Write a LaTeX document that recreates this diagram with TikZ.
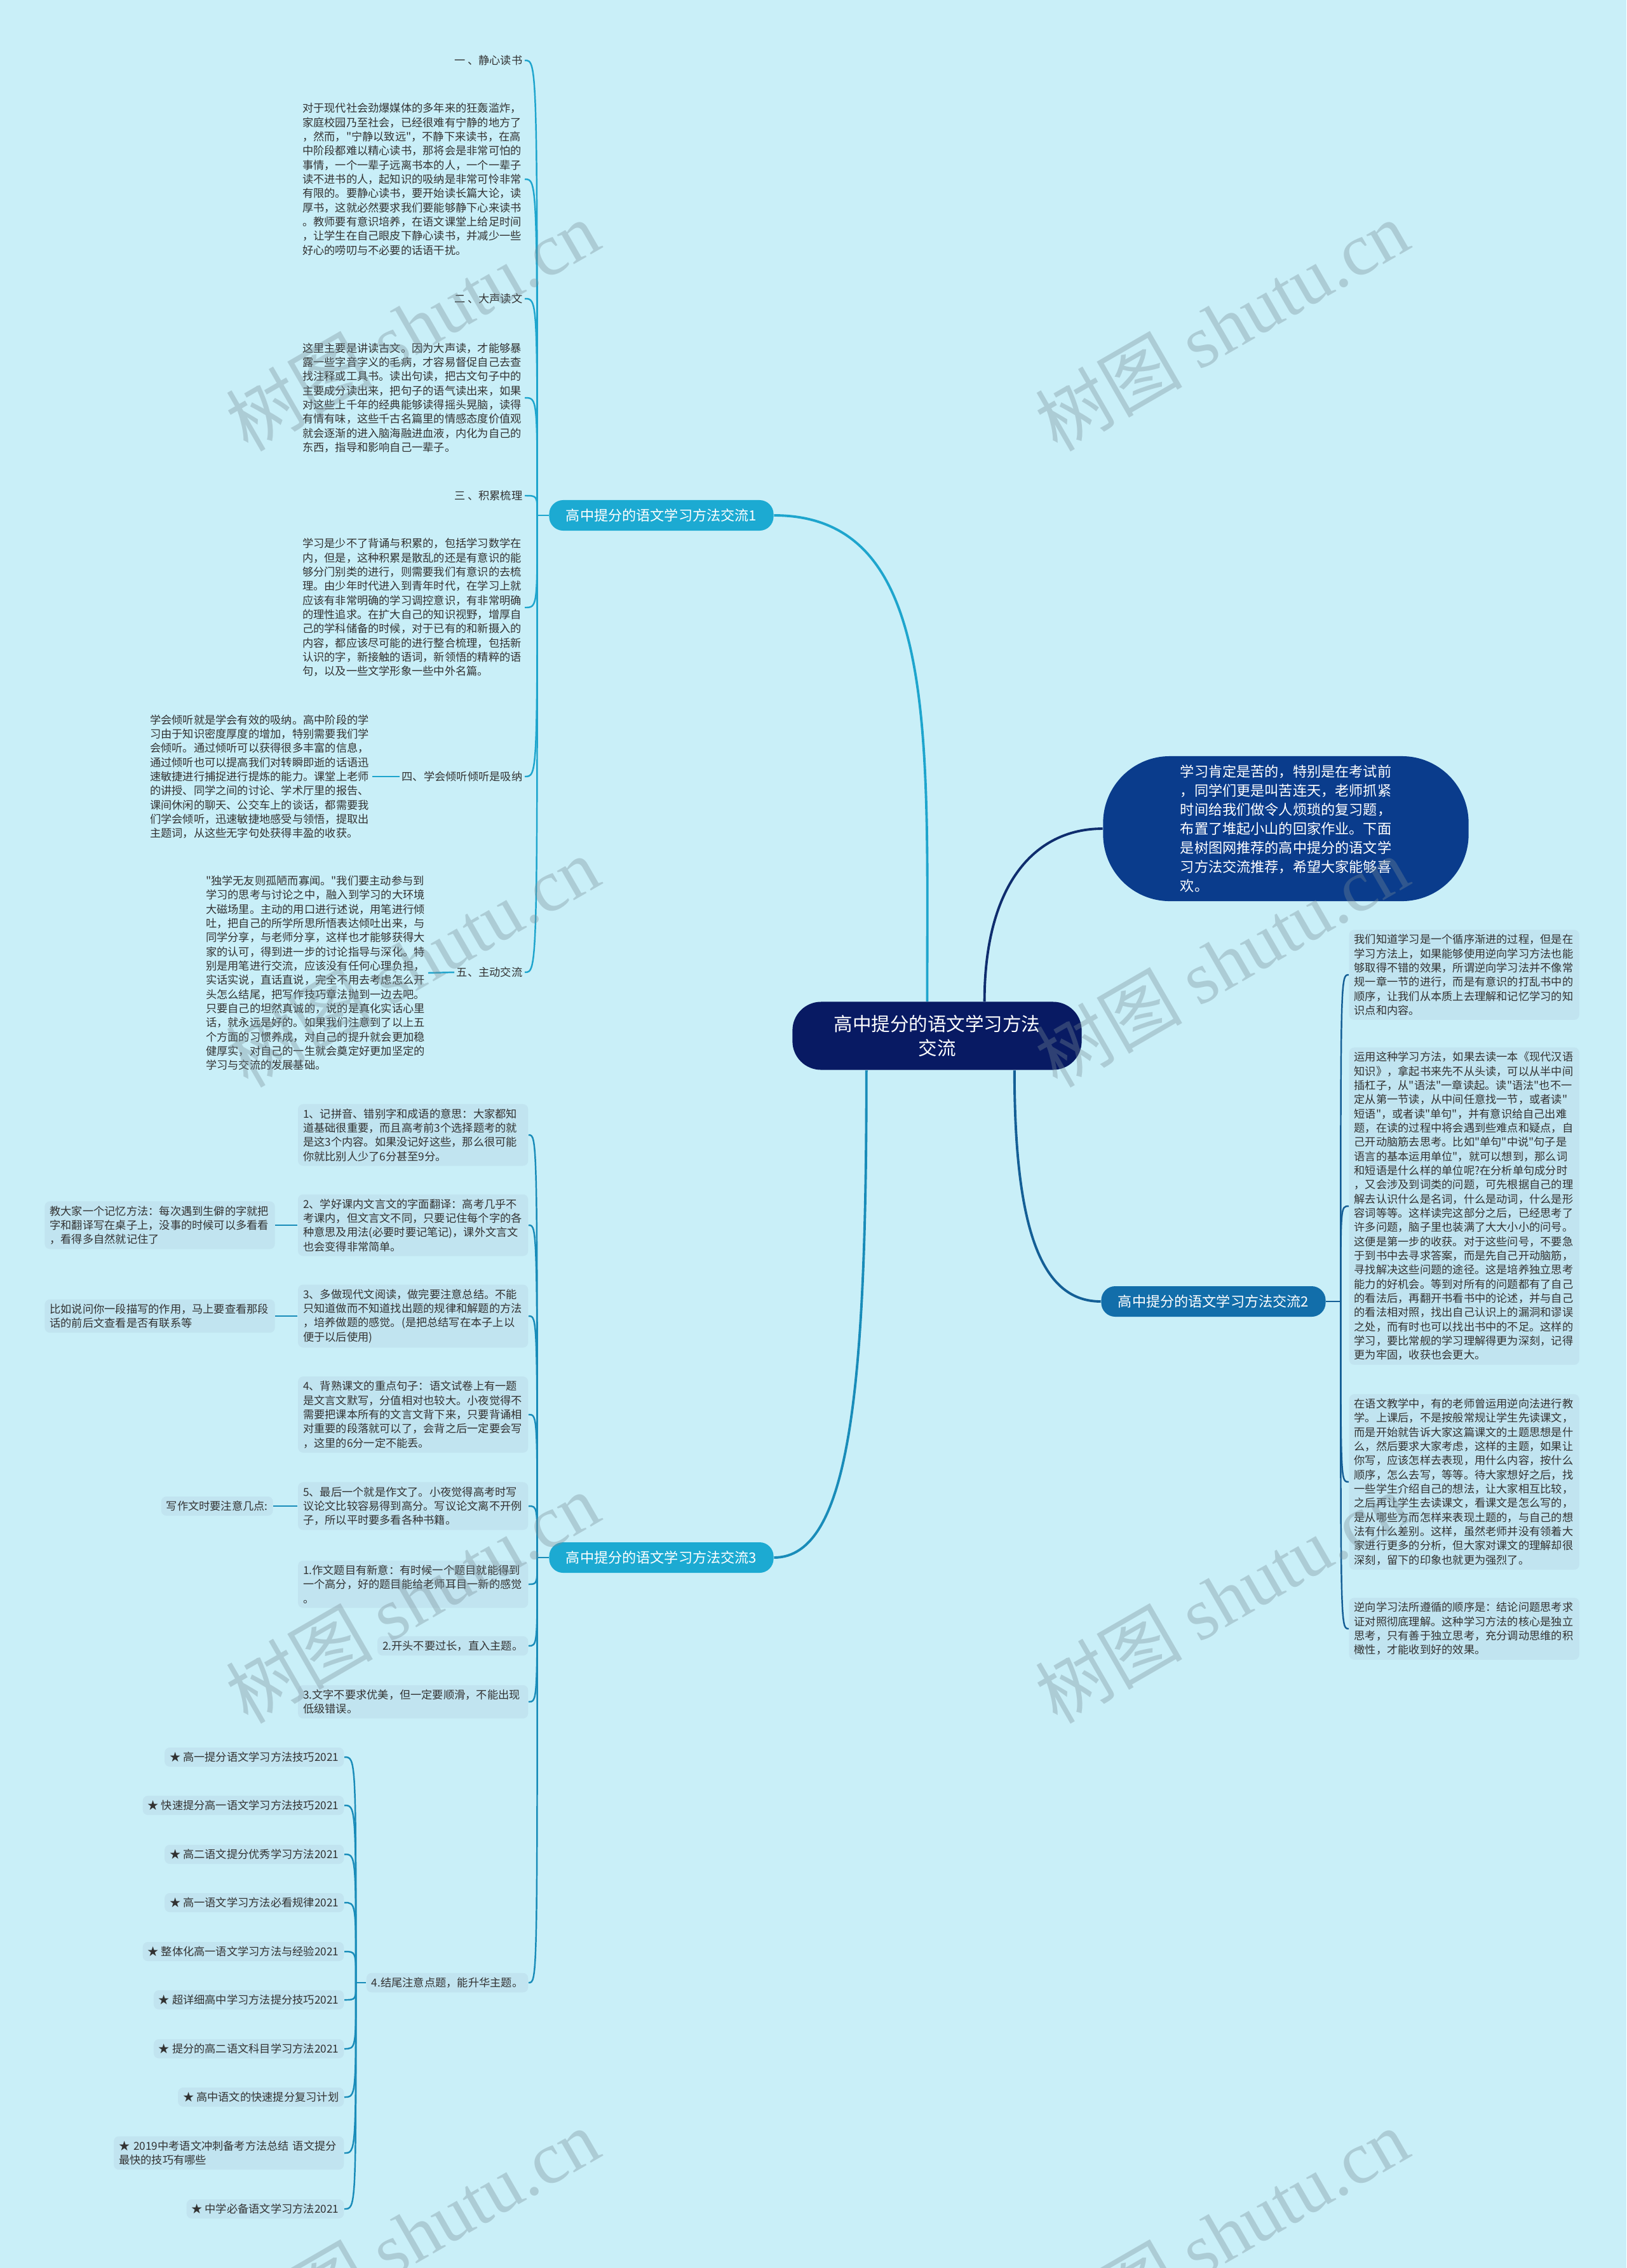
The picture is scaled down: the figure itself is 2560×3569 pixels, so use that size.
\documentclass[tikz,border=0pt]{standalone}
\usepackage{fontspec}
\setmainfont{Noto Sans CJK SC}[Ligatures=TeXOff]
\newfontfamily\wmfont{Liberation Serif}
\usetikzlibrary{positioning,calc}
\definecolor{bgcyan}{RGB}{201,239,248}
\definecolor{boxfill}{RGB}{193,228,240}
\definecolor{rootblue}{RGB}{8,26,99}
\definecolor{introblue}{RGB}{10,60,140}
\definecolor{brcyan}{RGB}{28,170,210}
\definecolor{brblue}{RGB}{18,110,170}
\definecolor{ink}{RGB}{50,50,50}
\definecolor{ln0}{RGB}{15,45,110}
\definecolor{ln1}{RGB}{30,165,205}
\definecolor{ln2}{RGB}{20,95,150}
\definecolor{ln3}{RGB}{25,140,185}
\definecolor{wmgray}{RGB}{120,140,150}

\begin{document}
\begin{tikzpicture}[x=0.01cm, y=-0.01cm,
  leaffont/.style={font=\fontsize{4.9pt}{6.35pt}\selectfont, text=ink},
  head/.style={leaffont, inner sep=0.03cm},
  para/.style={leaffont, align=left, text width=3.46cm, inner sep=0.03cm},
  leafbox/.style={leaffont, align=left, text width=3.46cm, fill=boxfill, rounded corners=0.08cm, inner xsep=0.08cm, inner ysep=0.07cm},
  tagbox/.style={leaffont, fill=boxfill, rounded corners=0.08cm, inner xsep=0.08cm, inner ysep=0.07cm},
  rootbox/.style={fill=rootblue, text=white, rounded corners=0.45cm, minimum width=4.55cm, minimum height=1.07cm, align=center, font=\fontsize{8.4pt}{11pt}\selectfont},
  introbox/.style={fill=introblue, text=white, rounded corners=1.05cm, minimum width=5.75cm, minimum height=2.28cm, align=left, font=\fontsize{6.3pt}{8.5pt}\selectfont},
  branchbox/.style={text=white, rounded corners=0.22cm, minimum width=3.53cm, minimum height=0.48cm, font=\fontsize{6.3pt}{7pt}\selectfont},
  wire/.style={line width=0.7pt},
  mainwire/.style={line width=1.1pt},
  wmark/.style={rotate=30, text=wmgray, opacity=0.35, font=\fontsize{33pt}{33pt}\selectfont}]

  \fill[bgcyan] (0,0) rectangle (2560,3569);
  \useasboundingbox (0,0) rectangle (2560,3569);

  % centre and the three branches
  \node[rootbox] (root) at (1475,1630) {高中提分的语文学习方法\\交流};
  \node[introbox] (intro) at (2024,1304) {学习肯定是苦的，特别是在考试前\\
    ，同学们更是叫苦连天，老师抓紧\\
    时间给我们做令人烦琐的复习题，\\
    布置了堆起小山的回家作业。下面\\
    是树图网推荐的高中提分的语文学\\
    习方法交流推荐，希望大家能够喜\\
    欢。};
  \node[branchbox, fill=brcyan] (b1) at (1041,811) {高中提分的语文学习方法交流1};
  \node[branchbox, fill=brblue] (b2) at (1910,2048) {高中提分的语文学习方法交流2};
  \node[branchbox, fill=brcyan] (b3) at (1041,2451) {高中提分的语文学习方法交流3};

  \draw[mainwire, ln0] (root.36) .. controls +(0,-180) and +(-110,0) .. (intro.west);
  \draw[mainwire, ln1] (root.106) .. controls +(0,-420) and +(260,0) .. (b1.east);
  \draw[mainwire, ln2] (root.-24) .. controls +(0,260) and +(-90,0) .. (b2.west);
  \draw[mainwire, ln3] (root.206) .. controls +(0,500) and +(120,0) .. (b3.east);

  % branch 1
  \node[head, anchor=east] (h1) at (826,95) {一 、静心读书};
  \node[para, anchor=east] (p1) at (826,282) {对于现代社会劲爆媒体的多年来的狂轰滥炸，\\
    家庭校园乃至社会，已经很难有宁静的地方了\\
    ，然而，"宁静以致远"，不静下来读书，在高\\
    中阶段都难以精心读书，那将会是非常可怕的\\
    事情，一个一辈子远离书本的人，一个一辈子\\
    读不进书的人，起知识的吸纳是非常可怜非常\\
    有限的。要静心读书，要开始读长篇大论，读\\
    厚书，这就必然要求我们要能够静下心来读书\\
    。教师要有意识培养，在语文课堂上给足时间\\
    ，让学生在自己眼皮下静心读书，并减少一些\\
    好心的唠叨与不必要的话语干扰。};
  \node[head, anchor=east] (h2) at (826,470) {二 、大声读文};
  \node[para, anchor=east] (p2) at (826,626) {这里主要是讲读古文。因为大声读，才能够暴\\
    露一些字音字义的毛病，才容易督促自己去查\\
    找注释或工具书。读出句读，把古文句子中的\\
    主要成分读出来，把句子的语气读出来，如果\\
    对这些上千年的经典能够读得摇头晃脑，读得\\
    有情有味，这些千古名篇里的情感态度价值观\\
    就会逐渐的进入脑海融进血液，内化为自己的\\
    东西，指导和影响自己一辈子。};
  \node[head, anchor=east] (h3) at (826,780) {三 、积累梳理};
  \node[para, anchor=east] (p3) at (826,956) {学习是少不了背诵与积累的，包括学习数学在\\
    内，但是，这种积累是散乱的还是有意识的能\\
    够分门别类的进行，则需要我们有意识的去梳\\
    理。由少年时代进入到青年时代，在学习上就\\
    应该有非常明确的学习调控意识，有非常明确\\
    的理性追求。在扩大自己的知识视野，增厚自\\
    己的学科储备的时候，对于已有的和新摄入的\\
    内容，都应该尽可能的进行整合梳理，包括新\\
    认识的字，新接触的语词，新领悟的精粹的语\\
    句，以及一些文学形象一些中外名篇。};
  \node[head, anchor=east] (h4) at (826,1222) {四、学会倾听倾听是吸纳};
  \node[para, anchor=east] (p4) at (586,1222) {学会倾听就是学会有效的吸纳。高中阶段的学\\
    习由于知识密度厚度的增加，特别需要我们学\\
    会倾听。通过倾听可以获得很多丰富的信息，\\
    通过倾听也可以提高我们对转瞬即逝的话语迅\\
    速敏捷进行捕捉进行提炼的能力。课堂上老师\\
    的讲授、同学之间的讨论、学术厅里的报告、\\
    课间休闲的聊天、公交车上的谈话，都需要我\\
    们学会倾听，迅速敏捷地感受与领悟，提取出\\
    主题词，从这些无字句处获得丰盈的收获。};
  \node[head, anchor=east] (h5) at (826,1530) {五、主动交流};
  \node[para, anchor=east] (p5) at (674,1531) {"独学无友则孤陋而寡闻。"我们要主动参与到\\
    学习的思考与讨论之中，融入到学习的大环境\\
    大磁场里。主动的用口进行述说，用笔进行倾\\
    吐，把自己的所学所思所悟表达倾吐出来，与\\
    同学分享，与老师分享，这样也才能够获得大\\
    家的认可，得到进一步的讨论指导与深化。特\\
    别是用笔进行交流，应该没有任何心理负担，\\
    实话实说，直话直说，完全不用去考虑怎么开\\
    头怎么结尾，把写作技巧章法抛到一边去吧。\\
    只要自己的坦然真诚的，说的是真化实话心里\\
    话，就永远是好的。如果我们注意到了以上五\\
    个方面的习惯养成，对自己的提升就会更加稳\\
    健厚实，对自己的一生就会奠定好更加坚定的\\
    学习与交流的发展基础。};

  \coordinate (s1) at ($(b1.west)+(-18,0)$);
  \draw[wire, ln1] (b1.west) -- (s1);
  \foreach \c in {h1,p1,h2,p2,h3,p3,h4,h5}
    \draw[wire, ln1] (s1) .. controls (s1 |- \c) .. (\c.east);
  \draw[wire, ln1] (h4.west) -- (p4.east);
  \draw[wire, ln1] (h5.west) -- (p5.east);

  % branch 2
  \node[leafbox, anchor=west] (r1) at (2123,1534) {我们知道学习是一个循序渐进的过程，但是在\\
    学习方法上，如果能够使用逆向学习方法也能\\
    够取得不错的效果，所谓逆向学习法并不像常\\
    规一章一节的进行，而是有意识的打乱书中的\\
    顺序，让我们从本质上去理解和记忆学习的知\\
    识点和内容。};
  \node[leafbox, anchor=west] (r2) at (2123,1898) {运用这种学习方法，如果去读一本《现代汉语\\
    知识》，拿起书来先不从头读，可以从半中间\\
    插杠子，从"语法"一章读起。读"语法"也不一\\
    定从第一节读，从中间任意找一节，或者读"\\
    短语"，或者读"单句"，并有意识给自己出难\\
    题，在读的过程中将会遇到些难点和疑点，自\\
    己开动脑筋去思考。比如"单句"中说"句子是\\
    语言的基本运用单位"，就可以想到，那么词\\
    和短语是什么样的单位呢?在分析单句成分时\\
    ，又会涉及到词类的问题，可先根据自己的理\\
    解去认识什么是名词，什么是动词，什么是形\\
    容词等等。这样读完这部分之后，已经思考了\\
    许多问题，脑子里也装满了大大小小的问号。\\
    这便是第一步的收获。对于这些问号，不要急\\
    于到书中去寻求答案，而是先自己开动脑筋，\\
    寻找解决这些问题的途径。这是培养独立思考\\
    能力的好机会。等到对所有的问题都有了自己\\
    的看法后，再翻开书看书中的论述，并与自己\\
    的看法相对照，找出自己认识上的漏洞和谬误\\
    之处，而有时也可以找出书中的不足。这样的\\
    学习，要比常舰的学习理解得更为深刻，记得\\
    更为牢固，收获也会更大。};
  \node[leafbox, anchor=west] (r3) at (2123,2332) {在语文教学中，有的老师曾运用逆向法进行教\\
    学。上课后，不是按般常规让学生先读课文，\\
    而是开始就告诉大家这篇课文的土题思想是什\\
    么，然后要求大家考虑，这样的主题，如果让\\
    你写，应该怎样去表现，用什么内容，按什么\\
    顺序，怎么去写，等等。待大家想好之后，找\\
    一些学生介绍自己的想法，让大家相互比较，\\
    之后再让学生去读课文，看课文是怎么写的，\\
    是从哪些方而怎样来表现土题的，与自己的想\\
    法有什么差别。这样，虽然老师并没有领着大\\
    家进行更多的分析，但大家对课文的理解却很\\
    深刻，留下的印象也就更为强烈了。};
  \node[leafbox, anchor=west] (r4) at (2123,2563) {逆向学习法所遵循的顺序是：结论问题思考求\\
    证对照彻底理解。这种学习方法的核心是独立\\
    思考，只有善于独立思考，充分调动思维的积\\
    橄性，才能收到好的效果。};

  \coordinate (s2) at ($(b2.east)+(23,0)$);
  \draw[wire, ln2] (b2.east) -- (s2);
  \foreach \c in {r1,r2,r3,r4}
    \draw[wire, ln2] (s2) .. controls (s2 |- \c) .. (\c.west);

  % branch 3
  \node[leafbox, anchor=east] (i1) at (832,1786) {1、记拼音、错别字和成语的意思：大家都知\\
    道基础很重要，而且高考前3个选择题考的就\\
    是这3个内容。如果没记好这些，那么很可能\\
    你就比别人少了6分甚至9分。};
  \node[leafbox, anchor=east] (i2) at (832,1928) {2、学好课内文言文的字面翻译：高考几乎不\\
    考课内，但文言文不同，只要记住每个字的各\\
    种意思及用法(必要时要记笔记)，课外文言文\\
    也会变得非常简单。};
  \node[leafbox, left=0.35cm of i2] (n2) {教大家一个记忆方法：每次遇到生僻的字就把\\
    字和翻译写在桌子上，没事的时候可以多看看\\
    ，看得多自然就记住了};
  \node[leafbox, anchor=east] (i3) at (832,2071) {3、多做现代文阅读，做完要注意总结。不能\\
    只知道做而不知道找出题的规律和解题的方法\\
    ，培养做题的感觉。(是把总结写在本子上以\\
    便于以后使用)};
  \node[leafbox, left=0.35cm of i3] (n3) {比如说问你一段描写的作用，马上要查看那段\\
    话的前后文查看是否有联系等};
  \node[leafbox, anchor=east] (i4) at (832,2226) {4、背熟课文的重点句子：语文试卷上有一题\\
    是文言文默写，分值相对也较大。小夜觉得不\\
    需要把课本所有的文言文背下来，只要背诵相\\
    对重要的段落就可以了，会背之后一定要会写\\
    ，这里的6分一定不能丢。};
  \node[leafbox, anchor=east] (i5) at (832,2370) {5、最后一个就是作文了。小夜觉得高考时写\\
    议论文比较容易得到高分。写议论文离不开例\\
    子，所以平时要多看各种书籍。};
  \node[tagbox, left=0.38cm of i5] (n5) {写作文时要注意几点:};
  \node[leafbox, anchor=east] (j1) at (832,2493) {1.作文题目有新意：有时候一个题目就能得到\\
    一个高分，好的题目能给老师耳目一新的感觉\\
    。};
  \node[tagbox, anchor=east] (j2) at (832,2590) {2.开头不要过长，直入主题。};
  \node[leafbox, anchor=east] (j3) at (832,2678) {3.文字不要求优美，但一定要顺滑，不能出现\\
    低级错误。};
  \node[tagbox, anchor=east] (j4) at (832,3120) {4.结尾注意点题，能升华主题。};

  \coordinate (s3) at ($(b3.west)+(-18,0)$);
  \draw[wire, ln3] (b3.west) -- (s3);
  \foreach \c in {i1,i2,i3,i4,i5,j1,j2,j3,j4}
    \draw[wire, ln3] (s3) .. controls (s3 |- \c) .. (\c.east);
  \draw[wire, ln3] (i2.west) -- (n2.east);
  \draw[wire, ln3] (i3.west) -- (n3.east);
  \draw[wire, ln3] (i5.west) -- (n5.east);

  % related links
  \node[tagbox, anchor=east] (k1) at (542,2765) {★ 高一提分语文学习方法技巧2021};
  \node[tagbox, anchor=east] (k2) at (542,2841) {★ 快速提分高一语文学习方法技巧2021};
  \node[tagbox, anchor=east] (k3) at (542,2918) {★ 高二语文提分优秀学习方法2021};
  \node[tagbox, anchor=east] (k4) at (542,2994) {★ 高一语文学习方法必看规律2021};
  \node[tagbox, anchor=east] (k5) at (542,3071) {★ 整体化高一语文学习方法与经验2021};
  \node[tagbox, anchor=east] (k6) at (542,3147) {★ 超详细高中学习方法提分技巧2021};
  \node[tagbox, anchor=east] (k7) at (542,3224) {★ 提分的高二语文科目学习方法2021};
  \node[tagbox, anchor=east] (k8) at (542,3300) {★ 高中语文的快速提分复习计划};
  \node[leafbox, anchor=east] (k9) at (542,3388) {★ 2019中考语文冲刺备考方法总结 语文提分\\
    最快的技巧有哪些};
  \node[tagbox, anchor=east] (k10) at (542,3476) {★ 中学必备语文学习方法2021};

  \coordinate (s4) at ($(j4.west)+(-16,0)$);
  \draw[wire, ln3] (j4.west) -- (s4);
  \foreach \c in {k1,k2,k3,k4,k5,k6,k7,k8,k9,k10}
    \draw[wire, ln3] (s4) .. controls (s4 |- \c) .. (\c.east);

  % watermarks
  \foreach \wx in {649,1923}
    \foreach \wy in {512,1513,2514,3515}
      \node[wmark] (wm-\wx-\wy) at (\wx,\wy) {树图 {\wmfont shutu.cn}};
\end{tikzpicture}
\end{document}
